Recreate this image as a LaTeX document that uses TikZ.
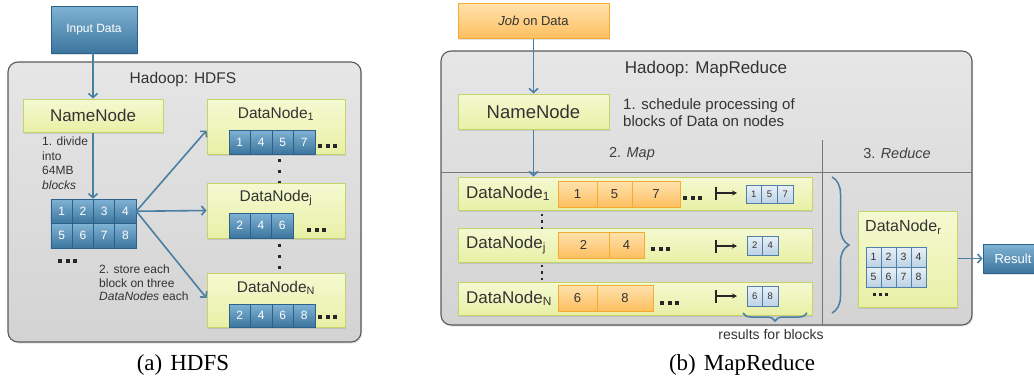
\documentclass[tikz,border=0pt]{standalone}
\usepackage{fontspec}
\setmainfont{Liberation Sans}
\newfontfamily\capfont{Liberation Serif}
\usetikzlibrary{arrows.meta,shadows,decorations.pathreplacing,calc}

\definecolor{txt}{HTML}{333333}
\definecolor{boxline}{HTML}{5A5A5A}
\definecolor{boxtop}{HTML}{E6E6E6}
\definecolor{boxbot}{HTML}{D3D3D3}
\definecolor{yeltop}{HTML}{F5F9D2}
\definecolor{yelbot}{HTML}{E8F0A6}
\definecolor{yelline}{HTML}{C5D36A}
\definecolor{blutop}{HTML}{80B3D4}
\definecolor{blubot}{HTML}{3C759E}
\definecolor{bluline}{HTML}{2E6189}
\definecolor{ortop}{HTML}{FFE2AE}
\definecolor{orbot}{HTML}{FDBF60}
\definecolor{orline}{HTML}{F5AB2F}
\definecolor{restop}{HTML}{E8F0F7}
\definecolor{resbot}{HTML}{BCD2E5}
\definecolor{resline}{HTML}{4F80A6}
\definecolor{arr}{HTML}{4A7EA3}
\definecolor{sepline}{HTML}{777777}

\newcommand\fsz[2]{\fontsize{#1}{#2}\selectfont}

\begin{document}
\begin{tikzpicture}[x=1pt,y=-1pt,
  every node/.style={text=txt},
  softshadow/.style={drop shadow={shadow xshift=1.2pt,shadow yshift=-1.5pt,opacity=0.22}},
  container/.style={draw=boxline,line width=1.1pt,rounded corners=10pt,
    top color=boxtop,bottom color=boxbot,softshadow,inner sep=0pt},
  yel/.style={draw=yelline,line width=1pt,top color=yeltop,bottom color=yelbot,
    inner sep=0pt,softshadow},
  inbox/.style={draw=bluline,line width=0.8pt,top color=blutop,bottom color=blubot,
    text=white,inner sep=0pt,softshadow},
  jobbox/.style={draw=orline,line width=1pt,top color=ortop,bottom color=orbot,
    inner sep=0pt,softshadow},
  hblk/.style={draw=bluline,line width=0.6pt,top color=blutop,bottom color=blubot,
    text=white,inner sep=0pt,font=\fsz{12}{14}},
  oblk/.style={draw=orline,line width=1pt,top color=ortop,bottom color=orbot,
    inner sep=0pt,font=\fsz{13}{15}},
  rblk/.style={draw=resline,line width=0.8pt,top color=restop,bottom color=resbot,
    inner sep=0pt,font=\fsz{9.5}{11}},
  flow/.style={draw=arr,line width=1.6pt,-{Straight Barb[length=4pt,width=9pt]}},
  mapsto/.style={draw=black!85,line width=1.4pt,
    {Bar[width=13pt,line width=2.4pt]}-{Stealth[length=5pt,width=5pt]}},
  brc/.style={draw=arr,line width=1.5pt,decorate},
  sep/.style={draw=sepline,line width=0.8pt},
  pics/hdots/.style={code={\foreach \d in {0,7.5,15} \fill[black!85] (\d,-2) rectangle ++(4,4);}},
  pics/sdots/.style={code={\foreach \d in {0,6,12} \fill[black!85] (\d,-1.5) rectangle ++(3,3);}},
  pics/vdotsA/.style={code={\foreach \d in {0,11,22} \fill[black!85] (-1.5,\d-1.5) rectangle ++(3,3);}},
  pics/vdotsB/.style={code={\foreach \d in {0,6.5,13} \fill[black!85] (-1.1,\d-1.1) rectangle ++(2.2,2.2);}}
]
\useasboundingbox (0,0) rectangle (1034,381);

% ---------------- HDFS ----------------
\node[container,minimum width=353pt,minimum height=280pt] (hdfs) at (184.5,202) {};
\node[font=\fsz{15.5}{18}] (hdfst) at (183,79) {Hadoop: HDFS};
\node[inbox,minimum width=86pt,minimum height=47pt,font=\fsz{12}{14}] (input) at (94,29.5) {Input Data};
\node[yel,minimum width=140pt,minimum height=33pt,font=\fsz{17}{20}] (nn1) at (93,115.5) {NameNode};
\draw[flow] (input.south -| nn1.north) -- (nn1.north);

% block grid
\foreach \n/\cx/\cy in {1/61.6/211.25,2/82.9/211.25,3/104.1/211.25,4/125.4/211.25,
                        5/61.6/235.75,6/82.9/235.75,7/104.1/235.75,8/125.4/235.75}
  \node[hblk,minimum width=21.25pt,minimum height=24.5pt] (g\n) at (\cx,\cy) {\n};
\draw[flow] (nn1.south) -- (nn1.south |- g2.north);
\pic at (58,261) {hdots};

\node[anchor=north west,align=left,inner sep=0pt,font=\fsz{12}{14.5}] (note1) at (42,137)
  {1. divide\\into\\64MB\\\textit{blocks}};
\node[anchor=north west,align=left,inner sep=0pt,font=\fsz{12}{13.5}] (note2) at (99,265)
  {2. store each\\block on three\\\textit{DataNodes} each};

% data nodes
\node[yel,minimum width=138pt,minimum height=55pt] (dn1) at (276,126.5) {};
\node[font=\fsz{15.5}{18}] (dn1t) at (276,114) {DataNode\textsubscript{1}};
\foreach \n/\cx [count=\i] in {1/239.75,4/261.25,5/282.75,7/304.25}
  \node[hblk,minimum width=21.5pt,minimum height=24pt] (da\i) at (\cx,142) {\n};
\pic at (318,146) {hdots};

\pic at (279,160) {vdotsA};

\node[yel,minimum width=138pt,minimum height=55pt] (dnj) at (276,210.5) {};
\node[font=\fsz{15.5}{18}] (dnjt) at (276,198) {DataNode\textsubscript{j}};
\foreach \n/\cx [count=\i] in {2/239.7,4/261,6/282.3}
  \node[hblk,minimum width=21.33pt,minimum height=25pt] (db\i) at (\cx,225.5) {\n};
\pic at (307,230) {hdots};

\pic at (279,245) {vdotsA};

\node[yel,minimum width=138pt,minimum height=54pt] (dnn) at (276,300) {};
\node[font=\fsz{15.5}{18}] (dnnt) at (276,288) {DataNode\textsubscript{N}};
\foreach \n/\cx [count=\i] in {2/239.75,4/261.25,6/282.75,8/304.25}
  \node[hblk,minimum width=21.5pt,minimum height=23pt] (dc\i) at (\cx,315.5) {\n};
\pic at (318,317) {hdots};

\draw[flow] (g4.east) -- ($(dn1.west)+(0,4)$);
\draw[flow] (g4.east) -- (dnj.west);
\draw[flow] (g4.east) -- ($(dnn.west)+(0,-2)$);

\node[font=\capfont\fsz{23}{26},text=black] (capa) at (183,365) {(a)\hspace{0.35em}HDFS};

% ---------------- MapReduce ----------------
\node[container,minimum width=531pt,minimum height=274pt] (mr) at (706.5,188) {};
\node[font=\fsz{17}{20}] (mrt) at (706,69) {Hadoop: MapReduce};
\coordinate (sepl) at (441,172); \coordinate (sepr) at (972,172);
\coordinate (sept) at (822,140); \coordinate (sepb) at (822,325);
\draw[sep] (sepl) -- (sepr);
\draw[sep] (sept) -- (sepb);
\node[font=\fsz{14.5}{17},text=black!75] (maplbl) at (632,154) {2. \textit{Map}};
\node[font=\fsz{14.5}{17},text=black!75] (redlbl) at (897,153) {3. \textit{Reduce}};

\node[jobbox,minimum width=151pt,minimum height=35pt,font=\fsz{13}{15}] (job) at (533.5,20.5) {\textit{Job} on Data};
\node[yel,minimum width=151pt,minimum height=35pt,font=\fsz{18.5}{22}] (nn2) at (533.5,111.5) {NameNode};
\node[anchor=north west,align=left,inner sep=0pt,font=\fsz{15}{17}] (note3) at (623,98.5)
  {1. schedule processing of\\blocks of Data on nodes};
\draw[flow] (job.south) -- (nn2.north);

% map rows
\node[yel,minimum width=354pt,minimum height=33pt] (r1) at (635,193.5) {};
\node[yel,minimum width=354pt,minimum height=34pt] (rj) at (635,245) {};
\node[yel,minimum width=354pt,minimum height=33pt] (rn) at (635,298.5) {};
\draw[flow] (nn2.south) -- (nn2.south |- r1.north);

\node[anchor=west,inner sep=0pt,font=\fsz{17}{20}] (r1t) at (466,193.5) {DataNode\textsubscript{1}};
\node[anchor=west,inner sep=0pt,font=\fsz{17}{20}] (rjt) at (466,245) {DataNode\textsubscript{j}};
\node[anchor=west,inner sep=0pt,font=\fsz{17}{20}] (rnt) at (466,298.5) {DataNode\textsubscript{N}};

\node[oblk,minimum width=39pt,minimum height=26pt] (o11) at (577.5,194) {1};
\node[oblk,minimum width=35pt,minimum height=26pt] (o12) at (614.5,194) {5};
\node[oblk,minimum width=48pt,minimum height=26pt] (o13) at (656,194) {7};
\node[oblk,minimum width=51pt,minimum height=26pt] (o21) at (583.5,245) {2};
\node[oblk,minimum width=35pt,minimum height=26pt] (o22) at (626.5,245) {4};
\node[oblk,minimum width=39pt,minimum height=26pt] (o31) at (577.5,298) {6};
\node[oblk,minimum width=56pt,minimum height=26pt] (o32) at (625,298) {8};

\pic at (683,198) {hdots};
\pic at (651,249) {hdots};
\pic at (660,303) {hdots};

\pic at (542,215) {vdotsB};
\pic at (542,266) {vdotsB};

\coordinate (m1a) at (715,193); \coordinate (m1b) at (737,193);
\coordinate (m2a) at (715,246); \coordinate (m2b) at (737,246);
\coordinate (m3a) at (715,296); \coordinate (m3b) at (737,296);
\draw[mapsto] (m1a) -- (m1b);
\draw[mapsto] (m2a) -- (m2b);
\draw[mapsto] (m3a) -- (m3b);

\foreach \n/\cx [count=\i] in {1/753.8,5/769.5,7/785.2}
  \node[rblk,minimum width=15.67pt,minimum height=18pt] (ra\i) at (\cx,194.5) {\n};
\foreach \n/\cx [count=\i] in {2/754.75,4/770.25}
  \node[rblk,minimum width=15.5pt,minimum height=19pt] (rb\i) at (\cx,245.5) {\n};
\foreach \n/\cx [count=\i] in {6/754.75,8/770.25}
  \node[rblk,minimum width=15.5pt,minimum height=20pt] (rc\i) at (\cx,296.5) {\n};

% brace under the results
\coordinate (ba) at (807,313); \coordinate (bb) at (743,313);
\draw[brc,decoration={brace,amplitude=8pt}] (ba) -- (bb);
\node[font=\fsz{14}{16}] (reslbl) at (771,334) {results for blocks};

% reduce
\coordinate (bc) at (832,177); \coordinate (bd) at (832,313);
\draw[brc,decoration={brace,amplitude=17pt}] (bc) -- (bd);

\node[yel,minimum width=99pt,minimum height=96pt] (dnr) at (907.5,259) {};
\node[anchor=west,inner sep=0pt,font=\fsz{16}{19}] (dnrt) at (865,227) {DataNode\textsubscript{r}};
\foreach \n/\cx/\cy in {1/873.5/257,2/888.5/257,3/903.5/257,4/918.5/257,
                        5/873.5/277,6/888.5/277,7/903.5/277,8/918.5/277}
  \node[rblk,minimum width=15pt,minimum height=20pt,font=\fsz{10.5}{12}] (q\n) at (\cx,\cy) {\n};
\pic at (873,294) {sdots};

\node[inbox,minimum width=60pt,minimum height=29pt,font=\fsz{13}{15}] (res) at (1013,258.5) {Result};
\draw[flow] (dnr.east |- res.west) -- (res.west);

\node[font=\capfont\fsz{23}{26},text=black] (capb) at (742,365) {(b)\hspace{0.35em}MapReduce};
\end{tikzpicture}
\end{document}
